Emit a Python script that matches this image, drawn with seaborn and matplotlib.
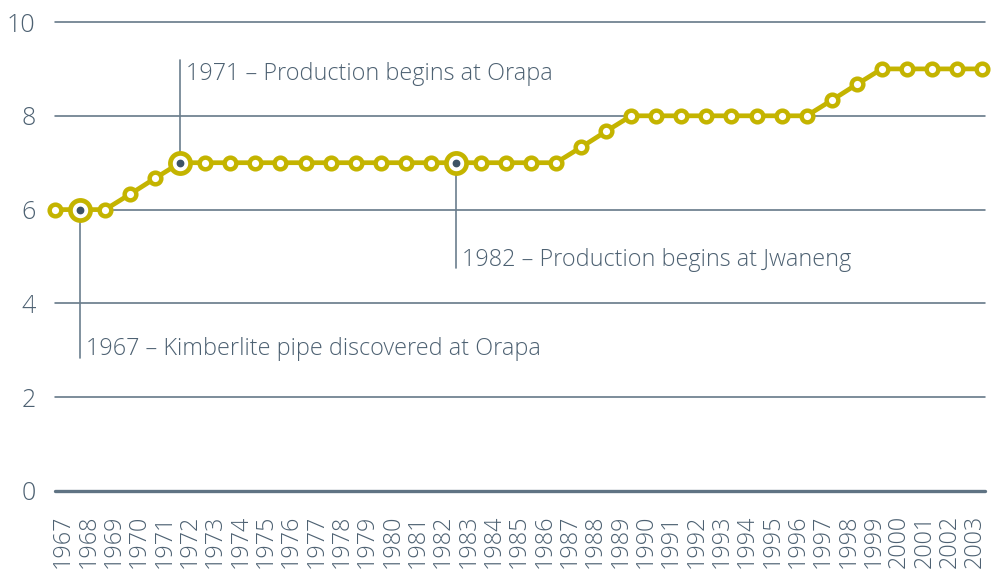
import numpy as np
import pandas as pd
import matplotlib
matplotlib.use("Agg")
import matplotlib.pyplot as plt
import seaborn as sns

# ---- data ----
years = list(range(1966, 2004))
values = [6, 6, 6, 6.33, 6.67,
          7, 7, 7, 7, 7, 7, 7, 7, 7, 7, 7, 7, 7, 7, 7, 7,
          7.33, 7.67,
          8, 8, 8, 8, 8, 8, 8, 8,
          8.33, 8.67,
          9, 9, 9, 9, 9]
tick_labels = [str(y) for y in range(1967, 2004)]
y_ticks = [0, 2, 4, 6, 8, 10]
event_years = [1967, 1971, 1982]
event_texts = ["1967 \u2013 Kimberlite pipe discovered at Orapa",
               "1971 \u2013 Production begins at Orapa",
               "1982 \u2013 Production begins at Jwaneng"]
event_label_y = [2.84, 9.2, 4.75]

df = pd.DataFrame({"year": years, "value": values})

sns.set_theme(style="white")
plt.rcParams['font.family'] = ['Open Sans', 'DejaVu Sans']

LINE = "#C4B400"
TEXT = "#4d6172"
GRID = "#5f7383"
DOT = "#3d5366"

fig = plt.figure(figsize=(9.93, 5.70), dpi=100)
ax = fig.add_axes([55/993, (570-491)/570, (985-55)/993, (491-22)/570])

# grid lines
for yv in y_ticks:
    ax.axhline(yv, color=GRID, lw=2.4 if yv == 0 else 1.15, zorder=1)

sns.lineplot(data=df, x="year", y="value", ax=ax, color=LINE, lw=3.4,
             marker="o", markersize=8.4, markerfacecolor="white",
             markeredgecolor=LINE, markeredgewidth=3.2, zorder=3)

val_by_year = dict(zip(years, values))
for yr, txt, ly in zip(event_years, event_texts, event_label_y):
    yv = val_by_year[yr]
    ax.plot([yr, yr], [yv, ly], color="#6b7e8d", lw=1.2, zorder=2)
    ax.plot([yr], [yv], marker="o", markersize=14.5, markerfacecolor="white",
            markeredgecolor=LINE, markeredgewidth=3.4, zorder=4, ls="none")
    ax.plot([yr], [yv], marker="o", markersize=4.6, color=DOT, zorder=5, ls="none")
    va = "top" if ly > yv else "bottom"
    ax.text(yr + 0.24, ly + (-0.06 if va == "top" else -0.07), txt, fontsize=16.8,
            color=TEXT, va=va, ha="left", fontweight="light", zorder=6)

ax.set_xlim(1966, 1966 + 37.12)
ax.set_ylim(0, 10)
tick_pos = np.linspace(1966.32, 1966 + 36.72, len(tick_labels))
ax.set_xticks(tick_pos)
ax.set_xticklabels(tick_labels, rotation=90, fontsize=16.8, color=TEXT,
                   fontweight="light", va="top")
ax.set_yticks(y_ticks)
ax.set_yticklabels([str(v) for v in y_ticks], fontsize=18, color=TEXT,
                   fontweight="light")
ax.tick_params(axis="x", length=0, pad=17)
ax.tick_params(axis="y", length=0, pad=14)
ax.set_xlabel("")
ax.set_ylabel("")
for s in ax.spines.values():
    s.set_visible(False)
ax.patch.set_alpha(0)
for l in ax.lines:
    l.set_clip_on(False)

fig.savefig("out.png", dpi=100)
